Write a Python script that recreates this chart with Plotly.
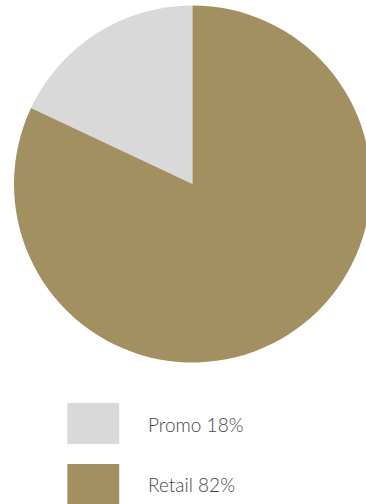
import plotly.graph_objects as go

# Sales channel split
labels = ["Promo", "Retail"]
values = [18, 82]
colors = ["#D9D9D9", "#A39061"]

# Canvas geometry in pixels (pie is allowed to run past the right edge)
FIG_W, FIG_H = 380, 504
PIE_L, PIE_T, PIE_D = 13.5, 5, 358

def px_x(x):
    return (x - PIE_L) / PIE_D

def px_y(y):
    return (PIE_T + PIE_D - y) / PIE_D

# Promo slice ends at 12 o'clock, so start the clockwise sweep before it
start_angle = -360 * values[0] / sum(values)

fig = go.Figure(
    go.Pie(
        labels=labels,
        values=values,
        marker=dict(colors=colors, line=dict(width=0)),
        sort=False,
        direction="clockwise",
        rotation=start_angle,
        textinfo="none",
        hoverinfo="label+percent",
        showlegend=False,
    )
)

# Custom legend: large swatches with label and share
sw_x0, sw_x1 = 67, 119
rows = [(403, 444), (464, 505)]
for (y0, y1), lab, val, col in zip(rows, labels, values, colors):
    fig.add_shape(
        type="rect", xref="paper", yref="paper",
        x0=px_x(sw_x0), x1=px_x(sw_x1), y0=px_y(y1), y1=px_y(y0),
        fillcolor=col, line=dict(width=0),
    )
    fig.add_annotation(
        xref="paper", yref="paper",
        x=px_x(146), y=px_y((y0 + y1) / 2 + 0.5),
        xanchor="left", yanchor="middle",
        text=f"{lab} {val}%", showarrow=False,
        font=dict(family="Lato", size=19, color="#444444", weight=300),
    )

fig.update_layout(
    width=FIG_W, height=FIG_H, autosize=False,
    margin=dict(l=PIE_L, r=FIG_W - PIE_L - PIE_D, t=PIE_T, b=FIG_H - PIE_T - PIE_D, pad=0),
    paper_bgcolor="white", plot_bgcolor="white",
)

fig.write_html(
    "out.html",
    config={"displayModeBar": False},
    post_script="document.body.style.margin='0';document.body.style.overflow='hidden';document.documentElement.style.overflow='hidden';",
)
